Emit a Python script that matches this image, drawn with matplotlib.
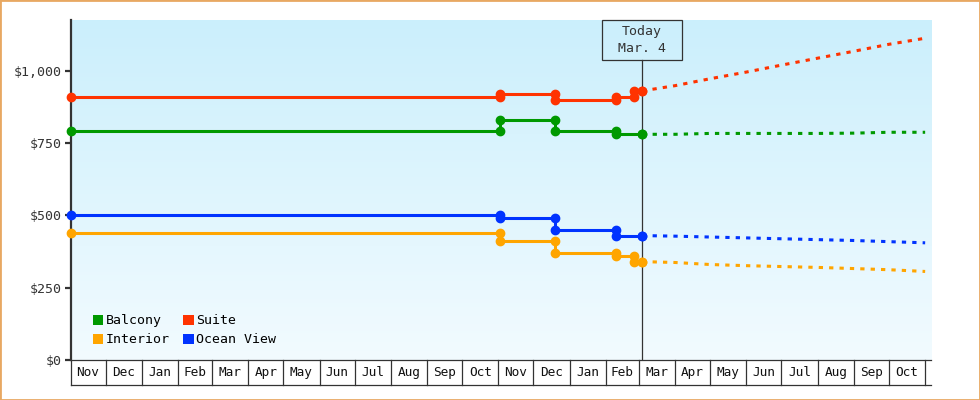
import numpy as np
import pandas as pd
import matplotlib
matplotlib.use("Agg")
import matplotlib.pyplot as plt
import matplotlib.dates as mdates
import matplotlib.transforms as mtransforms
from matplotlib.patches import Rectangle, Patch
from matplotlib.colors import LinearSegmentedColormap

# Cambios de precio registrados (fecha del cambio, precio nuevo)
balcony_dates = ["2023-11-01", "2024-11-02", "2024-12-19", "2025-02-10", "2025-03-04"]
balcony_prices = [790, 830, 790, 780, 780]
suite_dates = ["2023-11-01", "2024-11-02", "2024-12-19", "2025-02-10", "2025-02-25", "2025-03-04"]
suite_prices = [910, 920, 900, 910, 930, 930]
interior_dates = ["2023-11-01", "2024-11-02", "2024-12-19", "2025-02-10", "2025-02-25", "2025-03-04"]
interior_prices = [440, 410, 370, 360, 340, 340]
ocean_dates = ["2023-11-01", "2024-11-02", "2024-12-19", "2025-02-10", "2025-03-04"]
ocean_prices = [500, 490, 450, 430, 430]

# Prevision desde hoy
forecast_dates = ["2025-03-04", "2025-04-01", "2025-05-01", "2025-06-01", "2025-07-01",
                  "2025-08-01", "2025-09-01", "2025-10-01", "2025-11-01"]
balcony_forecast = [780, 780, 783, 783, 783, 783, 784, 787, 787]
suite_forecast = [930, 948, 972, 995, 1019, 1043, 1067, 1091, 1112]
interior_forecast = [340, 337, 330, 326, 323, 320, 316, 312, 306]
ocean_forecast = [430, 428, 425, 422, 419, 416, 413, 409, 405]

series = ["Balcony", "Interior", "Suite", "Ocean View"]
colores = {"Balcony": "#009900", "Suite": "#ff3300", "Interior": "#ffa500", "Ocean View": "#0033ff"}
historico = {"Balcony": (balcony_dates, balcony_prices), "Suite": (suite_dates, suite_prices),
             "Interior": (interior_dates, interior_prices), "Ocean View": (ocean_dates, ocean_prices)}
prevision = {"Balcony": balcony_forecast, "Suite": suite_forecast,
             "Interior": interior_forecast, "Ocean View": ocean_forecast}

hoy = mdates.date2num(pd.Timestamp("2025-03-04"))
inicio = mdates.date2num(pd.Timestamp("2023-11-01"))
fin = mdates.date2num(pd.Timestamp("2025-11-06"))
meses = pd.date_range("2023-11-01", "2025-11-01", freq="MS")
ymax = 1175

MONO = "DejaVu Sans Mono"
GRIS = "#333333"


def escalones(fechas, precios):
    """Convierte los cambios de precio en una linea escalonada."""
    fechas = mdates.date2num(pd.to_datetime(fechas))
    xs, ys = [fechas[0]], [precios[0]]
    for f, anterior, nuevo in zip(fechas[1:], precios[:-1], precios[1:]):
        xs += [f, f]
        ys += [anterior, nuevo]
    return xs, ys


fig = plt.figure(figsize=(9.8, 4), dpi=100, facecolor="white")
ax = fig.add_axes([70.5 / 980, 40 / 400, 860.5 / 980, 340 / 400])

# fondo degradado
cmap = LinearSegmentedColormap.from_list("fondo", ["#cbeffc", "#f2fbff"])
ax.imshow(np.linspace(0, 1, 256).reshape(-1, 1), cmap=cmap, aspect="auto",
          extent=[inicio, fin, 0, ymax], zorder=0)

for nombre in series:
    fechas, precios = historico[nombre]
    xs, ys = escalones(fechas, precios)
    ax.plot(xs, ys, color=colores[nombre], lw=2.2, marker="o", ms=6,
            solid_joinstyle="miter", clip_on=False, zorder=3)
    ax.plot(mdates.date2num(pd.to_datetime(forecast_dates)), prevision[nombre], color=colores[nombre],
            lw=2.2, ls=(0, (1.4, 2.0)), zorder=3)

ax.set_xlim(inicio, fin)
ax.set_ylim(0, ymax)

# ejes
for lado in ["top", "right"]:
    ax.spines[lado].set_visible(False)
ax.spines["left"].set_color(GRIS)
ax.spines["left"].set_linewidth(1.6)
ax.spines["bottom"].set_color(GRIS)
ax.spines["bottom"].set_linewidth(0.9)
ax.set_yticks([0, 250, 500, 750, 1000])
ax.set_yticklabels([f"${v:,}" for v in [0, 250, 500, 750, 1000]], family=MONO, fontsize=9.5, color=GRIS)
ax.tick_params(axis="y", length=4, width=1.6, color=GRIS, pad=2)
ax.set_xticks([])

# celdas de los meses
blend = mtransforms.blended_transform_factory(ax.transData, ax.transAxes)
alto = 25 / 340
pos_meses = mdates.date2num(meses)
for m in pos_meses:
    ax.plot([m, m], [0, -alto], transform=blend, color=GRIS, lw=0.9, clip_on=False)
for a, b, nombre_mes in zip(pos_meses[:-1], pos_meses[1:], meses.strftime("%b")):
    ax.text((a + b) / 2, -alto / 2, nombre_mes, transform=blend, ha="center", va="center",
            family=MONO, fontsize=9.2, color="#111111")
ax.plot([0, 1], [-alto, -alto], transform=ax.transAxes, color=GRIS, lw=0.9, clip_on=False)

# linea de hoy
ax.axvline(hoy, ymin=0, ymax=1 - 40 / 340, color=GRIS, lw=0.9, zorder=2)
caja = mtransforms.Affine2D() + mtransforms.ScaledTranslation(hoy, 1.0, blend)
ax.add_artist(Rectangle((-40, -40), 80, 40, transform=caja, fill=False, ec=GRIS, lw=0.9, clip_on=False))
ax.annotate("Today\nMar. 4", xy=(hoy, 1.0), xycoords=blend, xytext=(0, -20), textcoords="offset pixels",
            ha="center", va="center", family=MONO, fontsize=9.5, color=GRIS, linespacing=1.35)

# leyenda
handles = [Patch(facecolor=colores[n], edgecolor="none", label=n) for n in series]
ax.legend(handles=handles, ncol=2, loc="lower left", bbox_to_anchor=(0.026, 0.04),
          frameon=False, prop={"family": MONO, "size": 9.5}, handlelength=0.8, handleheight=0.8,
          handletextpad=0.2, columnspacing=1.0, labelspacing=0.45, borderaxespad=0, borderpad=0)

# borde naranja
fig.add_artist(Rectangle((0, 0), 1, 1, transform=fig.transFigure, fill=False, ec="#e8a862", lw=2.0))

fig.savefig("out.png", dpi=100)
